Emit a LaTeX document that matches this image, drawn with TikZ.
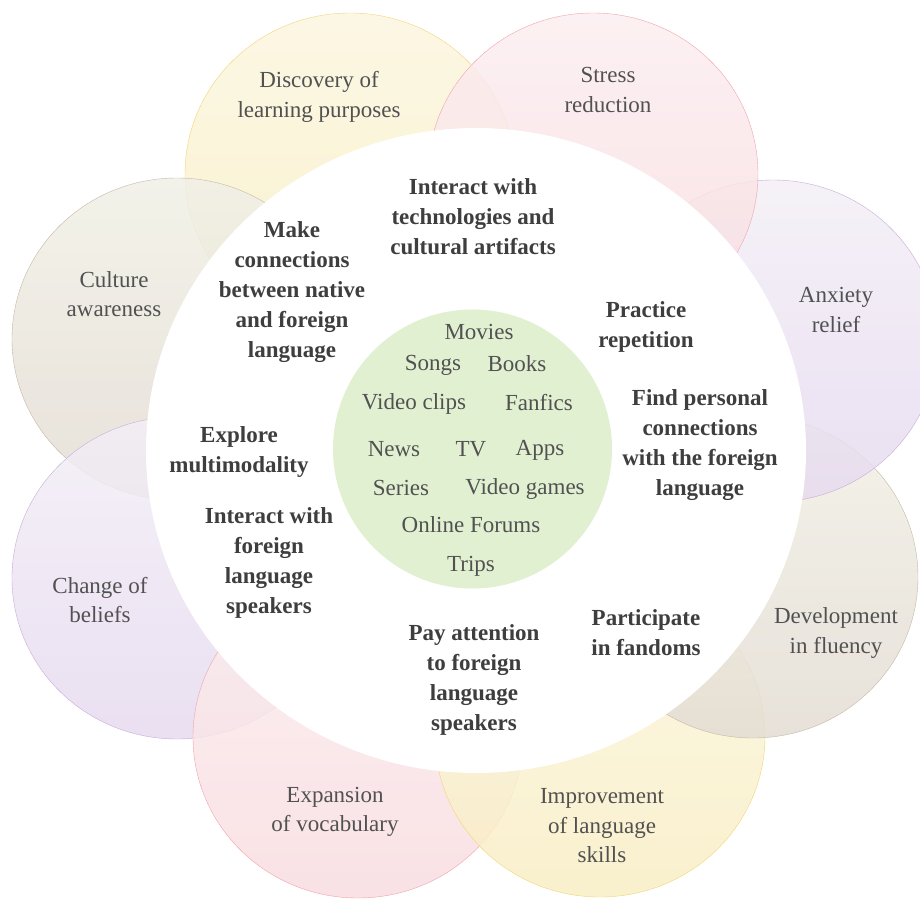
\documentclass[tikz,border=0pt]{standalone}
\usepackage{fontspec}
\setmainfont{Liberation Serif}
\definecolor{yellowtop}{HTML}{FBF6E0}
\definecolor{yellowbot}{HTML}{F8EEC4}
\definecolor{yellowrim}{HTML}{F3D576}
\definecolor{pinktop}{HTML}{FBEEF0}
\definecolor{pinkbot}{HTML}{F8DCE0}
\definecolor{pinkrim}{HTML}{F1A3AC}
\definecolor{purpletop}{HTML}{F3EFF6}
\definecolor{purplebot}{HTML}{E6DAEF}
\definecolor{purplerim}{HTML}{C8ACDA}
\definecolor{browntop}{HTML}{F1F0E6}
\definecolor{brownbot}{HTML}{E3DCD3}
\definecolor{brownrim}{HTML}{C6B7A5}
\definecolor{hubgreen}{HTML}{E2F0D2}
\definecolor{inktext}{HTML}{3E3E3E}
\def\petal[#1](#2){\draw[#1] (#2) ellipse [x radius=165, y radius=161];}

\begin{document}
\begin{tikzpicture}[x=1pt, y=-1pt,
	petaltext/.style={align=center, text=inktext!90, font=\fontsize{23}{29.5}\selectfont},
	ringtext/.style={align=center, text=inktext, font=\fontsize{23}{30}\selectfont\bfseries},
	mediatext/.style={text=inktext!90, font=\fontsize{23}{28}\selectfont}]
	%%%%% START %%%%%
	\useasboundingbox (0,0) rectangle (920,899);
	
	\petal[fill opacity=0.85, top color=yellowtop, bottom color=yellowbot, draw=yellowrim](350, 174);
	\petal[fill opacity=0.85, top color=browntop, bottom color=brownbot, draw=brownrim](177, 339);
	\petal[fill opacity=0.85, top color=purpletop, bottom color=purplebot, draw=purplerim](177, 578);
	\petal[fill opacity=0.85, top color=pinktop, bottom color=pinkbot, draw=pinkrim](358, 737);
	\petal[fill opacity=0.85, top color=yellowtop, bottom color=yellowbot, draw=yellowrim](600, 736);
	\petal[fill opacity=0.85, top color=browntop, bottom color=brownbot, draw=brownrim](753, 577);
	\petal[fill opacity=0.85, top color=purpletop, bottom color=purplebot, draw=purplerim](773, 341);
	\petal[fill opacity=0.85, top color=pinktop, bottom color=pinkbot, draw=pinkrim](593, 174);
	
	\fill[white] (476, 450.5) ellipse [x radius=330, y radius=322.5];
	\fill[hubgreen] (472.5, 449) circle (139.5);
	
	\node[petaltext] (discovery) at (319, 97) {Discovery of\\learning purposes};
	\node[petaltext] (stress) at (608, 90) {Stress\\reduction};
	\node[petaltext] (anxiety) at (836, 310) {Anxiety\\relief};
	\node[petaltext] (culture) at (114, 294) {Culture\\awareness};
	\node[petaltext] (beliefs) at (100, 600) {Change of\\beliefs};
	\node[petaltext] (fluency) at (836, 633) {Development\\in fluency};
	\node[petaltext] (vocabulary) at (335, 812) {Expansion\\of vocabulary};
	\node[petaltext] (skills) at (602, 826) {Improvement\\of language\\skills};
	
	\node[ringtext] (artifacts) at (473, 217) {Interact with\\technologies and\\cultural artifacts};
	\node[ringtext] (connections) at (292, 292) {Make\\connections\\between native\\and foreign\\language};
	\node[ringtext] (repetition) at (646, 327) {Practice\\repetition};
	\node[ringtext] (personal) at (700, 445) {Find personal\\connections\\with the foreign\\language};
	\node[ringtext] (multimodality) at (239, 452) {Explore\\multimodality};
	\node[ringtext] (speakers) at (269, 563) {Interact with\\foreign\\language\\speakers};
	\node[ringtext] (attention) at (474, 680) {Pay attention\\to foreign\\language\\speakers};
	\node[ringtext] (fandoms) at (646, 633) {Participate\\in fandoms};
	
	\node[mediatext] (movies) at (479, 332) {Movies};
	\node[mediatext] (songs) at (433, 365) {Songs};
	\node[mediatext] (books) at (517, 364) {Books};
	\node[mediatext] (clips) at (414, 404) {Video clips};
	\node[mediatext] (fanfics) at (539, 403) {Fanfics};
	\node[mediatext] (news) at (394, 449) {News};
	\node[mediatext] (tv) at (471, 449) {TV};
	\node[mediatext] (apps) at (540, 450) {Apps};
	\node[mediatext] (series) at (401, 488) {Series};
	\node[mediatext] (games) at (525, 489) {Video games};
	\node[mediatext] (forums) at (471, 525) {Online Forums};
	\node[mediatext] (trips) at (471, 566) {Trips};
	
	%%%%% END %%%%%
\end{tikzpicture}
\end{document}
